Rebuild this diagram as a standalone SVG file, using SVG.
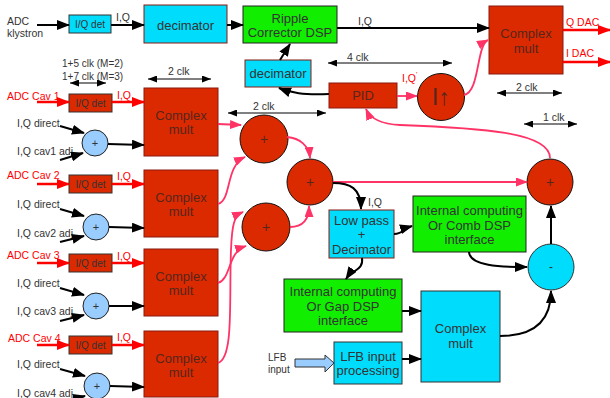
<svg xmlns="http://www.w3.org/2000/svg" width="610" height="398" viewBox="0 0 610 398">
<defs>
<style>
text{font-family:"Liberation Sans",Arial,sans-serif}
.l{font-size:10.5px;fill:#333}
.s{font-size:10px;fill:#333}
.r{fill:#ff0000}
.t{font-size:13px;fill:#333;text-anchor:middle}
.tr{font-size:13px;fill:#55261c;text-anchor:middle}
.rb{fill:#dc2a00;stroke:#8a1a10;stroke-width:1}
.rd2{fill:#dc2a00;stroke:#333;stroke-width:1}
.cy{fill:#00dcfb;stroke:#8a1a10;stroke-width:1}
.cy2{fill:#00dcfb;stroke:#333;stroke-width:1}
.gr{fill:#11ee00;stroke:#222;stroke-width:1}
.rc{fill:#dc2a00;stroke:#111;stroke-width:1}
.bc{fill:#99ccff;stroke:#222;stroke-width:1}
.k{fill:none;stroke:#000;stroke-width:2;marker-end:url(#ak)}
.rw{fill:none;stroke:#ff0000;stroke-width:2.5;marker-end:url(#ar)}
.pk{fill:none;stroke:#ff3366;stroke-width:1.8;marker-end:url(#ap)}
.dim{fill:none;stroke:#000;stroke-width:1;marker-start:url(#ad);marker-end:url(#ad)}
</style>
<marker id="ak" markerUnits="userSpaceOnUse" markerWidth="13" markerHeight="10" refX="12" refY="5" orient="auto"><path d="M0,0 L13,5 L0,10 z" fill="#000"/></marker>
<marker id="ar" markerUnits="userSpaceOnUse" markerWidth="13" markerHeight="10" refX="12" refY="5" orient="auto"><path d="M0,0 L13,5 L0,10 z" fill="#ff0000"/></marker>
<marker id="ap" markerUnits="userSpaceOnUse" markerWidth="12" markerHeight="9" refX="11" refY="4.5" orient="auto"><path d="M0,0 L12,4.5 L0,9 z" fill="#ff3366"/></marker>
<marker id="ad" markerUnits="userSpaceOnUse" markerWidth="9" markerHeight="7" refX="9" refY="3.5" orient="auto-start-reverse"><path d="M0,0 L9,3.5 L0,7 z" fill="#000"/></marker>
</defs>
<rect width="610" height="398" fill="#fff"/>

<g id="labels">
<text class="l" x="7" y="25" fill="#222">ADC</text>
<text class="l" x="7" y="37">klystron</text>
<text class="l" x="116" y="21">I,Q</text>
<text class="l" x="358" y="25">I,Q</text>
<text class="l r" x="402" y="82">I,Q<tspan font-size="7" dy="-5">'</tspan></text>
<text class="l r" x="566" y="26">Q DAC</text>
<text class="l r" x="566" y="57">I DAC</text>
<text class="s" x="62" y="67">1+5 clk (M=2)</text>
<text class="s" x="62" y="80">1+7 clk (M=3)</text>
<text class="l" x="168" y="75">2 clk</text>
<text class="l" x="253" y="110">2 clk</text>
<text class="l" x="347" y="61">4 clk</text>
<text class="l" x="516" y="91">2 clk</text>
<text class="l" x="543" y="121">1 clk</text>
<text class="l" x="368" y="206">I,Q</text>
<text class="s" x="268" y="361">LFB</text>
<text class="s" x="268" y="373">input</text>
</g>

<g id="dims">
<path class="dim" d="M70,83 L106,83"/>
<path class="dim" d="M148,79 L211,79"/>
<path class="dim" d="M228,113 L326,113"/>
<path class="dim" d="M328,63 L452,63"/>
<path class="dim" d="M497,93 L562,93"/>
<path class="dim" d="M524,124 L577,124"/>
</g>

<g id="iqdet-kly"><rect class="cy2" x="69" y="15" width="42" height="18"/><text class="s" x="90" y="28" text-anchor="middle">I/Q det</text></g>
<g id="decimator-top"><rect class="cy" x="144" y="5" width="83" height="38"/><text class="t" x="185.5" y="30" font-size="14">decimator</text></g>
<g id="ripple"><rect class="gr" x="243" y="6" width="94" height="37"/><text class="t" x="290" y="23">Ripple</text><text class="t" x="290" y="37">Corrector DSP</text></g>
<g id="cm-out"><rect class="rb" x="489" y="6" width="74" height="68"/><text class="tr" x="526" y="38">Complex</text><text class="tr" x="526" y="53">mult</text></g>
<g id="decimator-low"><rect class="cy" x="245" y="60" width="66" height="27"/><text class="t" x="278" y="78" font-size="13.5">decimator</text></g>
<g id="pid"><rect class="rb" x="329" y="83" width="68" height="25"/><text class="tr" x="363" y="100" font-size="14">PID</text></g>
<g id="iup"><circle class="rc" cx="441" cy="97" r="23.5"/><text x="441" y="105" font-size="23" fill="#55261c" text-anchor="middle">I↑</text></g>

<g id="iqdet1"><rect class="rd2" x="69" y="94" width="43" height="18"/><text class="s" x="90.5" y="107" text-anchor="middle">I/Q det</text></g>
<g id="iqdet2"><rect class="rd2" x="69" y="175" width="43" height="18"/><text class="s" x="90.5" y="188" text-anchor="middle">I/Q det</text></g>
<g id="iqdet3"><rect class="rd2" x="69" y="254" width="43" height="18"/><text class="s" x="90.5" y="267" text-anchor="middle">I/Q det</text></g>
<g id="iqdet4"><rect class="rd2" x="69" y="336" width="43" height="18"/><text class="s" x="90.5" y="349" text-anchor="middle">I/Q det</text></g>

<g id="row-labels">
<text class="l r" x="7" y="100">ADC Cav 1</text>
<text class="l r" x="117" y="99">I,Q</text>
<text class="l" x="17" y="127">I,Q direct</text>
<text class="l" x="17" y="155">I,Q cav1 adj</text>
<text class="l r" x="7" y="179">ADC Cav 2</text>
<text class="l r" x="117" y="180">I,Q</text>
<text class="l" x="17" y="208">I,Q direct</text>
<text class="l" x="17" y="237">I,Q cav2 adj</text>
<text class="l r" x="7" y="259">ADC Cav 3</text>
<text class="l r" x="117" y="260">I,Q</text>
<text class="l" x="17" y="287">I,Q direct</text>
<text class="l" x="17" y="315">I,Q cav3 adj</text>
<text class="l r" x="8" y="342">ADC Cav 4</text>
<text class="l r" x="117" y="341">I,Q</text>
<text class="l" x="17" y="368">I,Q direct</text>
<text class="l" x="17" y="397">I,Q cav4 adj</text>
</g>

<g id="sum1"><circle class="bc" cx="95" cy="143" r="13"/><text x="95" y="147" font-size="11" fill="#333" text-anchor="middle">+</text></g>
<g id="sum2"><circle class="bc" cx="96" cy="227" r="13"/><text x="96" y="231" font-size="11" fill="#333" text-anchor="middle">+</text></g>
<g id="sum3"><circle class="bc" cx="96" cy="306" r="13"/><text x="96" y="310" font-size="11" fill="#333" text-anchor="middle">+</text></g>
<g id="sum4"><circle class="bc" cx="97" cy="386" r="13"/><text x="97" y="390" font-size="11" fill="#333" text-anchor="middle">+</text></g>

<g id="cm1"><rect class="rb" x="144" y="88" width="74" height="68"/><text class="tr" x="181" y="120">Complex</text><text class="tr" x="181" y="134">mult</text></g>
<g id="cm2"><rect class="rb" x="144" y="170" width="74" height="67"/><text class="tr" x="181" y="202">Complex</text><text class="tr" x="181" y="216">mult</text></g>
<g id="cm3"><rect class="rb" x="144" y="249" width="74" height="67"/><text class="tr" x="181" y="281">Complex</text><text class="tr" x="181" y="295">mult</text></g>
<g id="cm4"><rect class="rb" x="144" y="331" width="74" height="66"/><text class="tr" x="181" y="363">Complex</text><text class="tr" x="181" y="377">mult</text></g>

<g id="addA"><circle class="rc" cx="264" cy="139" r="24"/><text x="264" y="144" font-size="14" fill="#55261c" text-anchor="middle">+</text></g>
<g id="addB"><circle class="rc" cx="310" cy="182" r="23"/><text x="310" y="187" font-size="14" fill="#55261c" text-anchor="middle">+</text></g>
<g id="addC"><circle class="rc" cx="266" cy="227" r="24"/><text x="266" y="232" font-size="14" fill="#55261c" text-anchor="middle">+</text></g>
<g id="addD"><circle class="rc" cx="550" cy="182" r="23"/><text x="550" y="187" font-size="14" fill="#55261c" text-anchor="middle">+</text></g>
<g id="sub"><circle class="cy2" cx="551" cy="267" r="23"/><text x="551" y="271" font-size="12" fill="#333" text-anchor="middle">-</text></g>

<g id="lowpass"><rect class="cy" x="329" y="210" width="65" height="48"/><text class="t" x="361.5" y="225">Low pass</text><text class="t" x="361.5" y="239">+</text><text class="t" x="361.5" y="254">Decimator</text></g>
<g id="comb"><rect class="gr" x="413" y="196" width="113" height="56"/><text class="t" x="469.5" y="215">Internal computing</text><text class="t" x="469.5" y="230">Or Comb DSP</text><text class="t" x="469.5" y="244">interface</text></g>
<g id="gap"><rect class="gr" x="284" y="279" width="118" height="53"/><text class="t" x="343" y="296">Internal computing</text><text class="t" x="343" y="311">Or Gap DSP</text><text class="t" x="343" y="325">interface</text></g>
<g id="lfb"><rect class="cy2" x="334" y="342" width="68" height="42"/><text class="t" x="368" y="361">LFB input</text><text class="t" x="368" y="375">processing</text></g>
<g id="cm-lfb"><rect class="cy2" x="421" y="291" width="79" height="91"/><text class="t" x="460.5" y="333" font-size="11.5">Complex</text><text class="t" x="460.5" y="348" font-size="11.5">mult</text></g>
<g id="lfb-arrow"><path d="M295,359 L325,359 L325,355 L334,363 L325,372 L325,367 L295,367 z" fill="#99ccff" stroke="#333" stroke-width="1"/></g>

<g id="connectors">
<path class="k" d="M37,25 L69,25"/>
<path class="k" d="M111,25 L144,25"/>
<path class="k" d="M227,25 L243,25"/>
<path class="k" d="M337,28 L489,28"/>
<path class="rw" d="M563,30 L610,30"/>
<path class="rw" d="M563,62 L610,62"/>
<path class="k" d="M280,60 L290,44"/>
<path class="k" d="M329,94 C302,95 292,93 279,88"/>
<path class="pk" d="M397,96 L417,96"/>
<path class="pk" d="M464,95 C480,92 476,46 488,40"/>
<path class="pk" d="M550,158 C550,132 480,128 400,125 C380,124 370,118 366,109"/>

<path class="rw" d="M37,102 L69,102"/>
<path class="rw" d="M112,102 L144,102"/>
<path class="k" d="M60,126 L84,133"/>
<path class="k" d="M60,160 L83,153"/>
<path class="k" d="M108,144 L144,145"/>
<path class="rw" d="M37,184 L69,184"/>
<path class="rw" d="M112,184 L144,184"/>
<path class="k" d="M60,209 L84,216"/>
<path class="k" d="M60,242 L84,236"/>
<path class="k" d="M109,227 L144,228"/>
<path class="rw" d="M37,263 L69,263"/>
<path class="rw" d="M112,263 L144,263"/>
<path class="k" d="M60,288 L84,295"/>
<path class="k" d="M60,321 L84,315"/>
<path class="k" d="M109,306 L144,306"/>
<path class="rw" d="M37,345 L69,345"/>
<path class="rw" d="M112,345 L144,345"/>
<path class="k" d="M60,369 L85,376"/>
<path class="k" d="M60,402 L85,396"/>
<path class="k" d="M110,386 L144,387"/>

<path class="pk" d="M218,124 L241,125"/>
<path class="pk" d="M218,204 C232,200 225,166 245,157"/>
<path class="pk" d="M218,283 C232,278 227,252 246,246"/>
<path class="pk" d="M218,363 C234,358 229,300 231,250 C232,224 234,216 243,212"/>
<path class="pk" d="M287,137 C300,138 309,146 310,158"/>
<path class="pk" d="M290,227 C303,227 309,220 309,206"/>
<path class="pk" d="M333,182 L527,182"/>
<path class="k" d="M333,183 C350,183 361,188 361,209"/>
<path class="k" d="M394,234 C403,234 405,228 412,226"/>
<path class="k" d="M469,252 C470,266 500,267 527,267"/>
<path class="k" d="M551,244 L551,206"/>
<path class="k" d="M362,258 C364,270 352,270 346,279"/>
<path class="k" d="M402,311 L421,311"/>
<path class="k" d="M402,359 L421,359"/>
<path class="k" d="M500,336 C535,336 551,320 551,291"/>
</g>
</svg>
